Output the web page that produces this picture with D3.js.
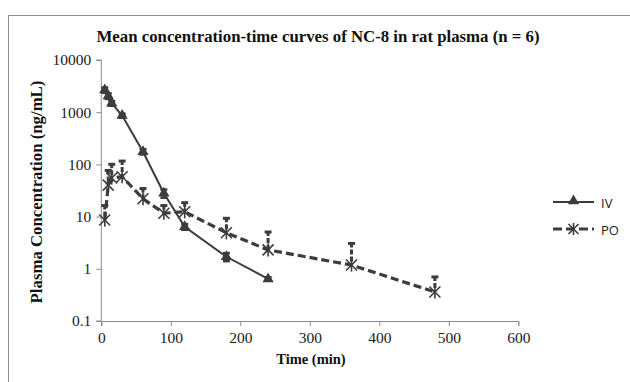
<!DOCTYPE html>
<html><head><meta charset="utf-8">
<script src="https://cdn.jsdelivr.net/npm/d3@7"></script>
<style>body{margin:0;background:#fff}svg{display:block}</style>
</head><body>
<script>
const title = "Mean concentration-time curves of NC-8 in rat plasma (n = 6)";
const xLabel = "Time (min)";
const yLabel = "Plasma Concentration (ng/mL)";
const xTicks = [0,100,200,300,400,500,600];
const yTicks = [0.1,1,10,100,1000,10000];
const ivTime = [5,10,15,30,60,90,120,180,240];
const ivMean = [2660,2040,1480,860,175,28,6.4,1.7,0.64];
const ivErr  = [300,250,150,80,20,5,0.8,0.3,0.05];
const poTime = [5,10,15,30,60,90,120,180,240,360,480];
const poMean = [8.6,40,55,58,22,11.6,12.4,4.9,2.3,1.18,0.36];
const poUpper= [17,80,105,121,36,17,19.3,9.7,5.3,3.2,0.73];
const seriesNames = ["IV","PO"];

const W=630,H=382;
const svg=d3.select("body").append("svg").attr("width",W).attr("height",H);
svg.append("rect").attr("x",8.5).attr("y",15.5).attr("width",640).attr("height",400)
  .attr("fill","#fff").attr("stroke","#8c8c8c").attr("stroke-width",1);

const x=d3.scaleLinear().domain([0,600]).range([101.3,518.3]);
const y=d3.scaleLog().domain([0.1,10000]).range([321,60]);
const col="#3c3c3c";
const serif="'Liberation Serif','Times New Roman',serif";

svg.append("text").attr("x",318).attr("y",42).attr("text-anchor","middle")
  .attr("font-family",serif).attr("font-weight","bold").attr("font-size",16.8)
  .attr("fill","#111").text(title);

// axes
const xa=svg.append("g").attr("transform",`translate(0,${y(0.1)})`)
  .call(d3.axisBottom(x).tickValues(xTicks).tickSize(5).tickPadding(6).tickFormat(d3.format("d")));
const ya=svg.append("g").attr("transform",`translate(${x(0)},0)`)
  .call(d3.axisLeft(y).tickValues(yTicks).tickSize(5).tickPadding(5).tickFormat(d=>String(d)));
[xa,ya].forEach(a=>{
  a.select(".domain").attr("stroke","#8c8c8c");
  a.selectAll(".tick line").attr("stroke","#8c8c8c");
  a.selectAll("text").attr("font-family",serif).attr("font-size",15.5).attr("fill","#222");
});
ya.select(".domain").attr("d",`M-5,${y(10000)}H0V${y(0.1)}H-5`);

svg.append("text").attr("x",311).attr("y",364).attr("text-anchor","middle")
  .attr("font-family",serif).attr("font-weight","bold").attr("font-size",14.5).attr("fill","#111").text(xLabel);
svg.append("text").attr("transform",`translate(42,192) rotate(-90)`).attr("text-anchor","middle")
  .attr("font-family",serif).attr("font-weight","bold").attr("font-size",16.8).attr("fill","#111").text(yLabel);

const line=d3.line().x(d=>x(d[0])).y(d=>y(d[1]));
const iv=ivTime.map((t,i)=>[t,ivMean[i],ivErr[i]]);
const po=poTime.map((t,i)=>[t,poMean[i],poUpper[i]]);

const gIV=svg.append("g");
iv.forEach(d=>{
  const x0=x(d[0]), y1=y(d[1]+d[2]), y2=y(Math.max(d[1]-d[2],0.11));
  gIV.append("line").attr("x1",x0).attr("x2",x0).attr("y1",y1).attr("y2",y2).attr("stroke",col).attr("stroke-width",2);
  [y1,y2].forEach(yy=>gIV.append("line").attr("x1",x0-3.5).attr("x2",x0+3.5).attr("y1",yy).attr("y2",yy).attr("stroke",col).attr("stroke-width",2.5));
});
const gPO=svg.append("g");
po.forEach(d=>{
  const x0=x(d[0]), y1=y(d[2]), y2=y(d[1]);
  gPO.append("line").attr("x1",x0).attr("x2",x0).attr("y1",y1).attr("y2",y2).attr("stroke",col).attr("stroke-width",3).attr("stroke-dasharray","5,2");
  gPO.append("line").attr("x1",x0-3.5).attr("x2",x0+3.5).attr("y1",y1+1).attr("y2",y1+1).attr("stroke",col).attr("stroke-width",3);
});

svg.append("path").datum(iv).attr("d",line).attr("fill","none").attr("stroke",col).attr("stroke-width",2);
svg.append("path").datum(po).attr("d",line).attr("fill","none").attr("stroke",col).attr("stroke-width",3.2).attr("stroke-dasharray","8,4");

const tri=d3.symbol().type(d3.symbolTriangle).size(55);
function star(g,cx,cy,r){
  const gg=g.append("g").attr("transform",`translate(${cx},${cy})`);
  [[-r,-r,r,r],[-r,r,r,-r],[0,-r*1.2,0,r*1.2]].forEach(l=>gg.append("line")
    .attr("x1",l[0]).attr("y1",l[1]).attr("x2",l[2]).attr("y2",l[3]).attr("stroke",col).attr("stroke-width",1.6));
}
svg.append("g").selectAll("path").data(iv).join("path").attr("d",tri)
  .attr("transform",d=>`translate(${x(d[0])},${y(d[1])})`).attr("fill",col);
const gs=svg.append("g");
po.forEach(d=>star(gs,x(d[0]),y(d[1]),5.5));

const lg=svg.append("g");
lg.append("line").attr("x1",553).attr("x2",594).attr("y1",202).attr("y2",202).attr("stroke",col).attr("stroke-width",2);
lg.append("path").attr("d",tri).attr("transform","translate(573.5,201)").attr("fill",col);
lg.append("text").attr("x",601).attr("y",207.5).attr("font-family","'Open Sans','Liberation Sans',sans-serif").attr("font-size",13).attr("fill","#222").text(seriesNames[0]);
lg.append("line").attr("x1",553).attr("x2",594).attr("y1",229).attr("y2",229).attr("stroke",col).attr("stroke-width",3.2).attr("stroke-dasharray","9,4");
star(lg,573.5,229,5);
lg.append("text").attr("x",601).attr("y",234.5).attr("font-family","'Open Sans','Liberation Sans',sans-serif").attr("font-size",13).attr("fill","#222").text(seriesNames[1]);
</script>
</body></html>
